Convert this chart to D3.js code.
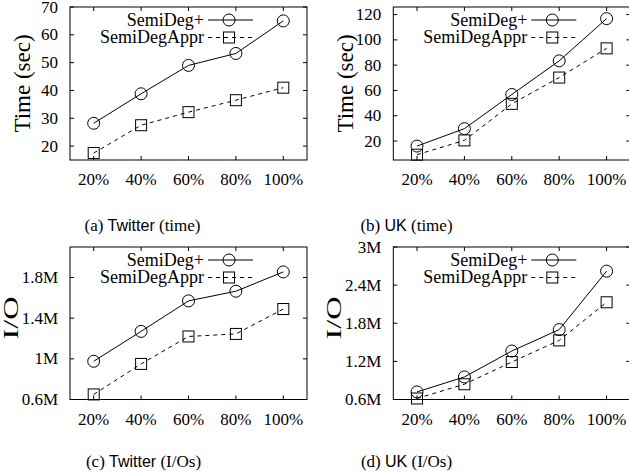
<!DOCTYPE html>
<html><head><meta charset="utf-8">
<script src="https://cdn.jsdelivr.net/npm/d3@7/dist/d3.min.js"></script>
<style>body{margin:0;background:#fff}svg{display:block}</style>
</head><body>
<svg id="c" width="629" height="474"></svg>
<script>
const xCats = ["20%","40%","60%","80%","100%"];
const xVals = [20,40,60,80,100];
const seriesNames = ["SemiDeg+","SemiDegAppr"];
const twitterTimeDeg = [28.2, 38.8, 49.0, 53.3, 65.0];
const twitterTimeAppr = [17.5, 27.5, 32.2, 36.5, 41.0];
const ukTimeDeg = [16.0, 29.8, 56.8, 83.4, 116.8];
const ukTimeAppr = [9.2, 20.5, 49.4, 70.2, 93.3];
const twitterIODeg = [0.976, 1.27, 1.57, 1.665, 1.855];
const twitterIOAppr = [0.65, 0.95, 1.22, 1.245, 1.49];
const ukIODeg = [0.72, 0.955, 1.363, 1.70, 2.62];
const ukIOAppr = [0.616, 0.84, 1.19, 1.53, 2.13];
const timeTicksA = [20,30,40,50,60,70];
const timeTicksB = [20,40,60,80,100,120];
const ioTicksC = [0.6,1.0,1.4,1.8];
const ioTicksD = [0.6,1.2,1.8,2.4,3.0];
const ioTickLabelsC = ["0.6M","1M","1.4M","1.8M"];
const ioTickLabelsD = ["0.6M","1.2M","1.8M","2.4M","3M"];

const panels = [
  {left:70, top:7, w:237, h:153, dom:[15,70], ticks:timeTicksA, labels:timeTicksA.map(String), ylabel:"Time (sec)", deg:twitterTimeDeg, appr:twitterTimeAppr, cap:["(a) ","Twitter"," (time)"], capX:142.5, capY:231},
  {left:393.3, top:7, w:237, h:153, dom:[5,126], ticks:timeTicksB, labels:timeTicksB.map(String), ylabel:"Time (sec)", deg:ukTimeDeg, appr:ukTimeAppr, cap:["(b) ","UK"," (time)"], capX:406.5, capY:231},
  {left:70, top:247, w:237, h:152.5, dom:[0.6,2.1], ticks:ioTicksC, labels:ioTickLabelsC, ylabel:"I/O", deg:twitterIODeg, appr:twitterIOAppr, cap:["(c) ","Twitter"," (I/Os)"], capX:143.5, capY:467},
  {left:393.3, top:247, w:237, h:152.5, dom:[0.6,3.0], ticks:ioTicksD, labels:ioTickLabelsD, ylabel:"I/O", deg:ukIODeg, appr:ukIOAppr, cap:["(d) ","UK"," (I/Os)"], capX:406.5, capY:467}
];

const svg = d3.select("#c");
const serif = "Liberation Serif";
const sans = "Liberation Sans";

function marker(g, kind, x, y){
  if(kind===0){
    g.append("circle").attr("cx",x).attr("cy",y).attr("r",6).attr("fill","none").attr("stroke","#000").attr("stroke-width",1);
  } else {
    g.append("rect").attr("x",x-5.5).attr("y",y-5.5).attr("width",11).attr("height",11).attr("fill","none").attr("stroke","#000").attr("stroke-width",1);
  }
}

panels.forEach(p=>{
  const g = svg.append("g");
  const x = d3.scaleLinear().domain([10,110]).range([p.left, p.left+p.w]);
  const y = d3.scaleLinear().domain(p.dom).range([p.top+p.h, p.top]);
  g.append("rect").attr("x",p.left).attr("y",p.top).attr("width",p.w).attr("height",p.h)
    .attr("fill","none").attr("stroke","#000").attr("stroke-width",1);
  const tl = 4;
  xVals.forEach((v,i)=>{
    g.append("line").attr("x1",x(v)).attr("x2",x(v)).attr("y1",p.top+p.h).attr("y2",p.top+p.h-tl).attr("stroke","#000");
    g.append("line").attr("x1",x(v)).attr("x2",x(v)).attr("y1",p.top).attr("y2",p.top+tl).attr("stroke","#000");
    g.append("text").attr("x",x(v)).attr("y",p.top+p.h+25).attr("text-anchor","middle")
      .attr("font-family",serif).attr("font-size",17).text(xCats[i]);
  });
  p.ticks.forEach((v,i)=>{
    g.append("line").attr("x1",p.left).attr("x2",p.left+tl).attr("y1",y(v)).attr("y2",y(v)).attr("stroke","#000");
    g.append("line").attr("x1",p.left+p.w).attr("x2",p.left+p.w-tl).attr("y1",y(v)).attr("y2",y(v)).attr("stroke","#000");
    g.append("text").attr("x",p.left-12).attr("y",y(v)+5.5).attr("text-anchor","end")
      .attr("font-family",serif).attr("font-size",17).text(p.labels[i]);
  });
  const isIO = p.ylabel==="I/O";
  const lx = isIO ? p.left - 59 : p.left - 48;
  const ly = isIO ? p.top + 71 : p.top + p.h/2;
  const yl = g.append("text").attr("transform",`translate(${lx},${ly}) rotate(-90)`).attr("text-anchor","middle")
    .attr("font-family",serif).attr("font-size",isIO?22:23).attr("dy",isIO?"0.3em":"0.35em").text(p.ylabel);
  if(isIO){ yl.attr("textLength",43).attr("lengthAdjust","spacingAndGlyphs"); }
  const line = d3.line().x((d,i)=>x(xVals[i])).y(d=>y(d));
  [p.deg,p.appr].forEach((s,k)=>{
    g.append("path").attr("d",line(s)).attr("fill","none").attr("stroke","#000").attr("stroke-width",1)
      .attr("stroke-dasharray",k===1?"4,4":null);
    s.forEach((d,i)=>marker(g,k,x(xVals[i]),y(d)));
  });
  seriesNames.forEach((n,k)=>{
    const ry = p.top + 13 + k*17.5;
    g.append("text").attr("x",p.left+134).attr("y",ry).attr("dy","0.33em").attr("text-anchor","end")
      .attr("font-family",serif).attr("font-size",18).text(n);
    g.append("line").attr("x1",p.left+138).attr("x2",p.left+183).attr("y1",ry).attr("y2",ry)
      .attr("stroke","#000").attr("stroke-dasharray",k===1?"4,4":null);
    marker(g,k,p.left+159,ry);
  });
  const t = svg.append("text").attr("x",p.capX).attr("y",p.capY).attr("text-anchor","middle").attr("font-size",17).attr("font-family",serif);
  t.append("tspan").text(p.cap[0]);
  t.append("tspan").attr("font-family",sans).attr("font-size",16).text(p.cap[1]);
  t.append("tspan").text(p.cap[2]);
});
</script>
</body></html>
